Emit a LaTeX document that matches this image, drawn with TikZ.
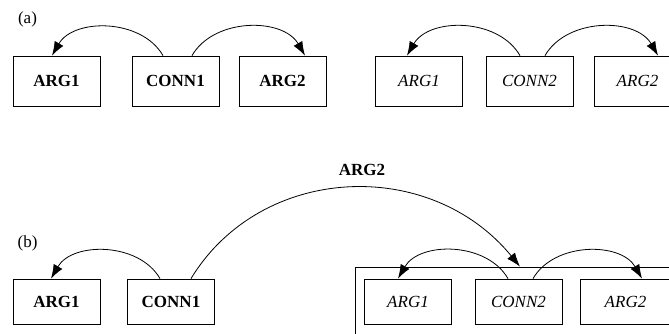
\documentclass[tikz,border=0pt]{standalone}
\usepackage{fontspec}
\setmainfont{Liberation Serif}
\usetikzlibrary{arrows.meta,calc}
\tikzset{
  box/.style={draw, line width=0.6pt, inner sep=0pt, font=\fontsize{12.75}{15}\selectfont},
  bigbox/.style={box, minimum width=65.25pt, minimum height=37.5pt},
  smallbox/.style={box, minimum width=65.25pt, minimum height=33.75pt},
  lbl/.style={inner sep=0pt, font=\fontsize{12.75}{15}\selectfont},
  arc/.style={line width=0.6pt, -{Latex[length=10.5pt,width=7.5pt]}}
}
\begin{document}
\begin{tikzpicture}[x=0.75pt,y=0.75pt]
\useasboundingbox (0,0) rectangle (669,-334);
\clip (0,0) rectangle (669,-334);
% (a)
\node[lbl] (la) at (27.5,-19) {(a)};
\node[bigbox] (a1) at (56.5,-81) {\textbf{ARG1}};
\node[bigbox] (c1) at (175.5,-81) {\textbf{CONN1}};
\node[bigbox] (a2) at (282.5,-81) {\textbf{ARG2}};
\node[bigbox] (ia1) at (419,-81) {\textit{ARG1}};
\node[bigbox] (c2) at (529.5,-81) {\textit{CONN2}};
\node[bigbox] (ia2) at (637.5,-81) {\textit{ARG2}};
\draw[arc] ($(c1.north)+(-12.5,0)$) to[out=120,in=60] ($(a1.north)+(-4.5,0)$);
\draw[arc] ($(c1.north)+(16.5,0)$) to[out=60,in=120] ($(a2.north)+(22.5,0)$);
\draw[arc] ($(c2.north)+(-9.5,0)$) to[out=120,in=60] ($(ia1.north)+(-12,0)$);
\draw[arc] ($(c2.north)+(15.5,0)$) to[out=60,in=120] ($(ia2.north)+(20.5,0)$);
% (b)
\node[lbl] (lb) at (27.5,-243) {(b)};
\node[smallbox] (b1) at (56.5,-301.5) {\textbf{ARG1}};
\node[smallbox] (bc1) at (171,-301.5) {\textbf{CONN1}};
\node[draw, line width=0.6pt, minimum width=258.75pt, minimum height=69.75pt, inner sep=0pt] (grp) at (527.5,-313.5) {};
\node[smallbox] (ba1) at (408,-301.5) {\textit{ARG1}};
\node[smallbox] (bc2) at (518.5,-301.5) {\textit{CONN2}};
\node[smallbox, minimum width=68pt] (ba2) at (625.5,-301.5) {\textit{ARG2}};
\draw[arc] ($(bc1.north)+(-11,0)$) to[out=120,in=60] ($(b1.north)+(-5.5,0)$);
\draw[arc] ($(bc2.north)+(-10.5,0)$) to[out=120,in=60] ($(ba1.north)+(-10,0)$);
\draw[arc] ($(bc2.north)+(14.5,0)$) to[out=60,in=120] ($(ba2.north)+(16.5,0)$);
\coordinate (s) at ($(bc1.north)+(20,0)$);
\coordinate (e) at ($(grp.north)+(-7.5,0)$);
\draw[arc] (s) .. controls ($(s)+(70,115)$) and ($(e)+(-90,110)$) .. (e);
\node[lbl] (l2) at (362,-170) {\textbf{ARG2}};
\end{tikzpicture}
\end{document}
